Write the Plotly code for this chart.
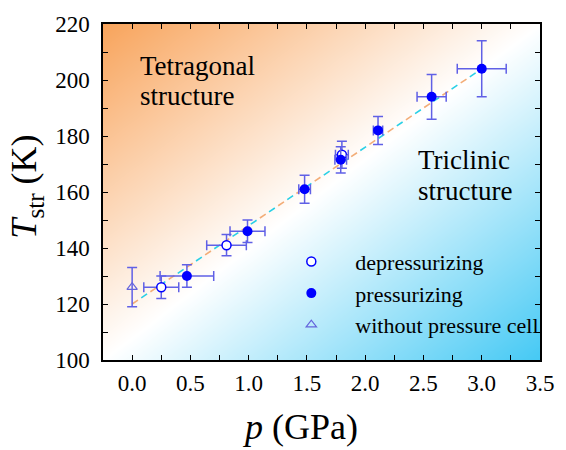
import numpy as np
import plotly.graph_objects as go

# ---- data ----
dep_p = [0.25, 0.81, 1.80]
dep_T = [126, 141, 173.3]
dep_perr = [0.15, 0.17, 0.055]
dep_Terr = [4, 3.8, 4.8]

pre_p = [0.47, 0.99, 1.48, 1.79, 2.11, 2.57, 3.0]
pre_T = [130, 146, 161, 171.5, 182, 194, 204]
pre_perr = [0.23, 0.15, 0.05, 0.05, 0.04, 0.125, 0.21]
pre_Terr = [4, 4, 5, 4.7, 5, 8, 10]

wo_p = [0.0]
wo_T = [126]
wo_Terr = [7]

fit_p = [0.0, 3.0]
fit_T = [120, 204]

x_ticks = [0.0, 0.5, 1.0, 1.5, 2.0, 2.5, 3.0, 3.5]
y_ticks = [100, 120, 140, 160, 180, 200, 220]

XR = [-0.25, 3.5]
YR = [100, 220]

# ---- background gradient (styling only) ----
gx = np.linspace(XR[0], XR[1], 40)
gy = np.linspace(YR[0], YR[1], 40)
U, V = np.meshgrid((gx - XR[0]) / (XR[1] - XR[0]), (gy - YR[0]) / (YR[1] - YR[0]))
G = U - V

serif = "Liberation Serif"
blue = "#0000ff"
errc = "#6060e6"

fig = go.Figure()
fig.add_trace(go.Heatmap(x=gx, y=gy, z=G, zmin=-1, zmax=1, zsmooth="best",
                         colorscale=[[0, "#f8a45c"], [0.5, "#ffffff"], [1, "#45c9f4"]],
                         showscale=False, hoverinfo="skip"))

# fit line: alternating orange / cyan dashes
fig.add_trace(go.Scatter(x=fit_p, y=fit_T, mode="lines", showlegend=False,
                         line=dict(color="#f3ad78", width=1.6, dash="7px,15px")))
fig.add_trace(go.Scatter(x=fit_p, y=fit_T, mode="lines", showlegend=False,
                         line=dict(color="#2ad0e6", width=1.6, dash="0px,11px,7px,4px")))

eb = dict(color=errc, thickness=1.5, width=5)
fig.add_trace(go.Scatter(x=wo_p, y=wo_T, mode="markers", name="without pressure cell",
                         legendrank=3,
                         marker=dict(symbol="triangle-up-open", size=9, color="#6464dc",
                                     line=dict(width=1.2)),
                         error_y=dict(type="data", array=wo_Terr, **eb)))
fig.add_trace(go.Scatter(x=dep_p, y=dep_T, mode="markers", name="depressurizing",
                         legendrank=1,
                         marker=dict(symbol="circle", size=9, color="white",
                                     line=dict(color=blue, width=1.5)),
                         error_x=dict(type="data", array=dep_perr, **eb),
                         error_y=dict(type="data", array=dep_Terr, **eb)))
fig.add_trace(go.Scatter(x=pre_p, y=pre_T, mode="markers", name="pressurizing",
                         legendrank=2,
                         marker=dict(symbol="circle", size=10, color=blue, line=dict(width=0)),
                         error_x=dict(type="data", array=pre_perr, **eb),
                         error_y=dict(type="data", array=pre_Terr, **eb)))

axis_common = dict(showline=True, linecolor="black", linewidth=1.5, mirror="allticks",
                   ticks="inside", ticklen=5, tickwidth=1.3, tickcolor="black",
                   showgrid=False, zeroline=False,
                   tickfont=dict(family=serif, size=23, color="black"))
fig.update_xaxes(range=XR, tickvals=x_ticks, ticktext=[f"{v:.1f}" for v in x_ticks],
                 minor=dict(dtick=0.25, tick0=0, ticks="inside", ticklen=5, tickwidth=1.3,
                            tickcolor="black", showgrid=False),
                 ticklabelstandoff=2, **axis_common)
fig.update_yaxes(range=YR, tickvals=y_ticks, ticktext=[str(v) for v in y_ticks],
                 minor=dict(dtick=10, tick0=100, ticks="inside", ticklen=5, tickwidth=1.3,
                            tickcolor="black", showgrid=False),
                 ticklabelstandoff=7, **axis_common)

ann_font = dict(family=serif, size=27, color="black")
annotations = [
    dict(text="Tetragonal", x=0.079, y=0.874, xanchor="left", yanchor="middle", font=ann_font),
    dict(text="structure", x=0.079, y=0.786, xanchor="left", yanchor="middle", font=ann_font),
    dict(text="Triclinic", x=0.716, y=0.594, xanchor="left", yanchor="middle", font=ann_font),
    dict(text="structure", x=0.716, y=0.503, xanchor="left", yanchor="middle", font=ann_font),
    dict(text="<i>p</i> (GPa)", x=0.451, y=-0.20, xanchor="center", yanchor="middle",
         font=dict(family=serif, size=36, color="black")),
    dict(text="<i>T</i><sub>str</sub> (K)", x=-0.175, y=0.5145, xanchor="center",
         yanchor="middle", textangle=-90, font=dict(family=serif, size=36, color="black")),
]
for a in annotations:
    a.update(xref="paper", yref="paper", showarrow=False)

fig.update_layout(
    width=566, height=450,
    margin=dict(l=103, r=16, t=16, b=90),
    paper_bgcolor="white", plot_bgcolor="white",
    font=dict(family=serif),
    annotations=annotations,
    legend=dict(x=0.376, y=0.355, xanchor="left", yanchor="top", bgcolor="rgba(0,0,0,0)",
                font=dict(family=serif, size=22, color="black"), tracegroupgap=0,
                itemwidth=78),
)

fig.write_html("out.html")
